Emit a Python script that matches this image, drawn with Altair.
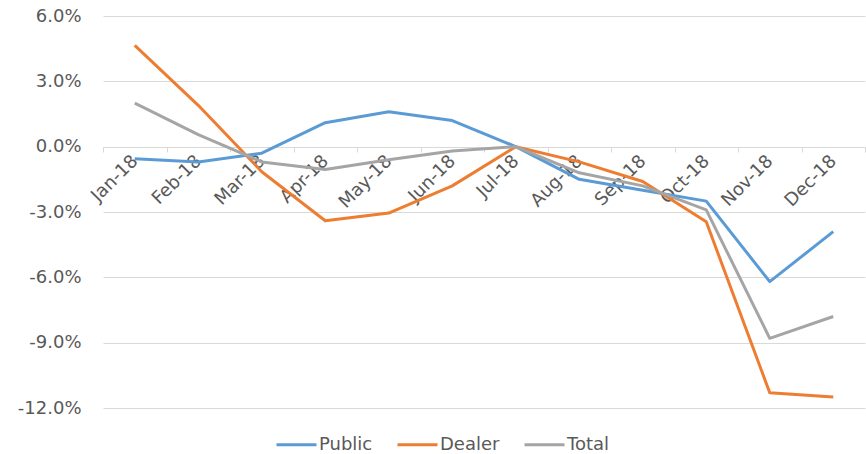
import altair as alt
import pandas as pd

months = ["Jan-18", "Feb-18", "Mar-18", "Apr-18", "May-18", "Jun-18",
          "Jul-18", "Aug-18", "Sep-18", "Oct-18", "Nov-18", "Dec-18"]
public = [-0.55, -0.7, -0.3, 1.1, 1.6, 1.2, 0.0, -1.5, -2.0, -2.5, -6.2, -3.9]
dealer = [4.65, 1.9, -1.15, -3.4, -3.05, -1.8, 0.0, -0.7, -1.6, -3.45, -11.3, -11.5]
total = [2.0, 0.55, -0.7, -1.05, -0.6, -0.2, 0.0, -1.2, -1.8, -2.9, -8.8, -7.8]
series = ["Public", "Dealer", "Total"]
colors = ["#5B9BD5", "#ED7D31", "#A5A5A5"]

rows = []
for name, vals in zip(series, [public, dealer, total]):
    for i, (m, v) in enumerate(zip(months, vals)):
        rows.append({"month": m, "value": v / 100, "series": name, "order": series.index(name)})
df = pd.DataFrame(rows)

FONT = "DejaVu Sans"
LABEL = "#595959"

x = alt.X("month:N", sort=months, title=None,
          scale=alt.Scale(type="band", paddingInner=0, paddingOuter=0),
          axis=alt.Axis(labelAngle=-45, labelFont=FONT, labelFontSize=18, labelColor=LABEL,
                        domainColor="#D9D9D9", grid=False, ticks=True, tickBand="extent",
                        tickSize=5, tickColor="#D9D9D9", offset=-261,
                        labelPadding=6, labelAlign="right", labelBaseline="middle"))
y = alt.Y("value:Q", title=None,
          scale=alt.Scale(domain=[-0.12, 0.06], nice=False),
          axis=alt.Axis(values=[-0.12, -0.09, -0.06, -0.03, 0, 0.03, 0.06],
                        labelExpr="replace(format(datum.value, '.1%'), '\u2212', '-')",
                        labelFont=FONT, labelFontSize=18, labelColor=LABEL,
                        domain=False, ticks=False, labelPadding=22,
                        gridColor="#D9D9D9", gridWidth=1))

chart = alt.Chart(df).mark_line(strokeWidth=3, strokeJoin="round").encode(
    x=x, y=y,
    color=alt.Color("series:N", sort=series,
                    scale=alt.Scale(domain=series, range=colors),
                    legend=alt.Legend(title=None, orient="none", direction="horizontal",
                                      legendX=172, legendY=407, symbolType="stroke",
                                      symbolSize=1600, symbolStrokeWidth=3,
                                      labelFont=FONT, labelFontSize=18, labelColor=LABEL,
                                      columnPadding=18, labelOffset=1)),
    order="order:Q",
).properties(
    width=762, height=392,
    background="white",
    autosize=alt.AutoSizeParams(type="none"),
    padding={"left": 103, "top": 16, "right": 1, "bottom": 46},
).configure_view(stroke=None)

chart.save("out.html", embed_options={"renderer": "svg", "actions": False})
